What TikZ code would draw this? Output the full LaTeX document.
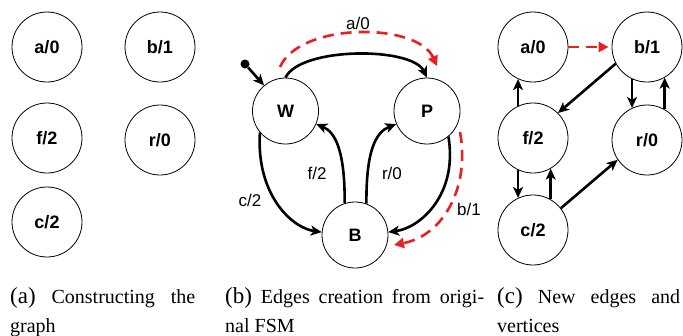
\documentclass[tikz,border=0pt]{standalone}
\usepackage{fontspec}
\setmainfont{Liberation Serif}
\newfontfamily\arialf{Liberation Sans}
\usetikzlibrary{arrows.meta}
\definecolor{myred}{RGB}{235,30,35}
\begin{document}
\begin{tikzpicture}[x=1pt,y=-1pt,
  st/.style={circle,draw,line width=0.8pt,minimum size=70pt,inner sep=0pt,
    font=\arialf\bfseries\fontsize{18}{18}\selectfont},
  stb/.style={st,minimum size=66pt},
  tr/.style={line width=2.6pt,-{Stealth[length=11pt,width=10pt,inset=3pt]}},
  rd/.style={line width=2.6pt,draw=myred,dash pattern=on 11pt off 7pt,
    -{Triangle[length=10pt,width=10pt,fill=myred]}},
  lab/.style={font=\arialf\fontsize{17}{17}\selectfont,inner sep=0pt},
  captxt/.style={anchor=base west,inner sep=0pt,font=\fontsize{20}{24}\selectfont}]
\useasboundingbox (0,0) rectangle (683,335);

% ---------- panel (a)
\node[st] (aa) at (47,47) {a/0};
\node[st] (ab) at (160,47) {b/1};
\node[st] (af) at (47,138) {f/2};
\node[st] (ar) at (160,140) {r/0};
\node[st] (ac) at (47,222) {c/2};

% ---------- panel (b)
\node[stb] (W) at (285.5,111) {W};
\node[stb] (P) at (427,111) {P};
\node[stb] (B) at (355,235) {B};
\node[circle,fill,inner sep=0pt,minimum size=9pt] (init) at (245,64) {};
\draw[tr] (init) -- (W.130);
\draw[tr] (W.90) .. controls +(15,-31) and +(-15,-31) .. (P.90);
\draw[tr] (W.220) .. controls (256,195) and (292,228) .. (B.175);
\draw[tr] (B.108) .. controls (345,150) and (335,132) .. (W.-23);
\draw[tr] (B.70) .. controls (366,150) and (376,132) .. (P.203);
\draw[tr] (P.-50) .. controls (458,195) and (420,228) .. (B.5);
\coordinate (r1) at (280,67);
\coordinate (r2) at (437,66);
\coordinate (r3) at (460,132);
\coordinate (r4) at (394,245);
\draw[rd] (r1) .. controls (300,22) and (417,22) .. (r2);
\draw[rd] (r3) .. controls (470,185) and (445,235) .. (r4);
\node[lab] (la) at (358,23) {a/0};
\node[lab] (lc) at (250,200) {c/2};
\node[lab] (lf) at (317,173) {f/2};
\node[lab] (lr) at (392,173) {r/0};
\node[lab] (lb) at (469,209) {b/1};

% ---------- panel (c)
\node[st] (ca) at (533,47) {a/0};
\node[st] (cb) at (647,47) {b/1};
\node[st] (cf) at (533,138) {f/2};
\node[st] (cr) at (647,140) {r/0};
\node[st] (cc) at (533,230) {c/2};
\draw[rd] (ca.east) -- ([xshift=-3pt]cb.west);
\draw[tr] (cf.115) -- (ca.245);
\draw[tr] (cf.245) -- (cc.115);
\draw[tr] (cc.60) -- (cf.300);
\draw[tr] (cb.245) -- (cr.115);
\draw[tr] (cr.60) -- (cb.300);
\draw[tr] (cb.208) -- (cf.45);
\draw[tr] (cc.38) -- (cr.214);

% ---------- captions
\node[captxt] (capa1) at (10,303) {\makebox[185pt][s]{{\fontsize{23}{24}\selectfont(a)} Constructing the}};
\node[captxt] (capa2) at (10,332) {graph};
\node[captxt] (capb1) at (225,303) {\makebox[259pt][s]{{\fontsize{23}{24}\selectfont(b)} Edges creation from origi-}};
\node[captxt] (capb2) at (225,332) {nal FSM};
\node[captxt] (capc1) at (497,303) {\makebox[183pt][s]{{\fontsize{23}{24}\selectfont(c)} New edges and}};
\node[captxt] (capc2) at (497,332) {vertices};
\end{tikzpicture}
\end{document}
